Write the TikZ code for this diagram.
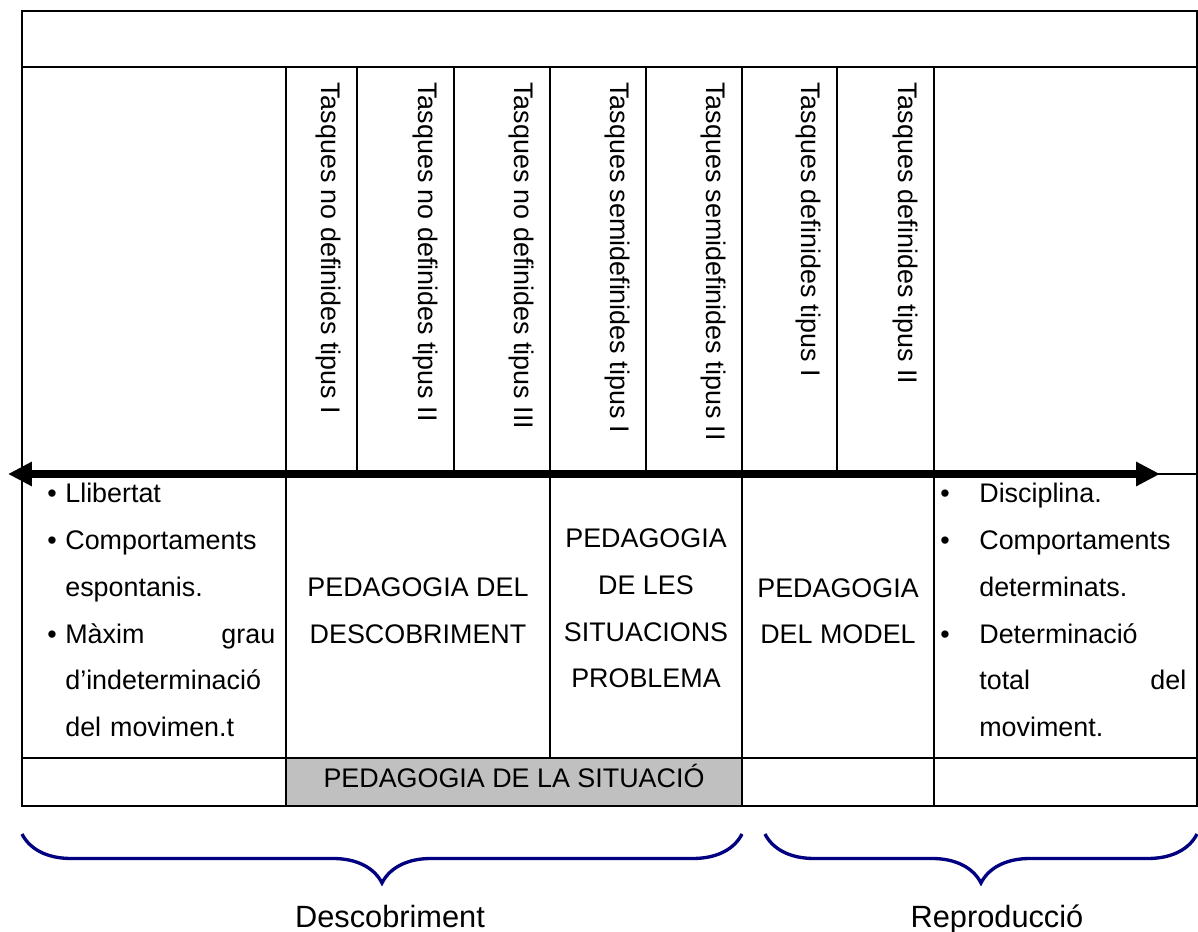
\documentclass[tikz,border=0pt]{standalone}
\usepackage{fontspec}
\setmainfont{Liberation Sans}
\usepackage{xcolor}
\usetikzlibrary{positioning,arrows.meta,decorations.pathreplacing}
\definecolor{navyblue}{HTML}{000080}
\definecolor{cellgray}{HTML}{C0C0C0}
\newcommand{\itembul}[1]{\leavevmode\llap{\textbullet\hspace{#1}}}

\begin{document}
\begin{tikzpicture}[x=0.02cm, y=-0.02cm,
    tableline/.style={line width=1.1pt},
    celltext/.style={inner sep=0pt, font=\fontsize{15.3pt}{26.6pt}\selectfont},
    vtext/.style={celltext, rotate=-90, anchor=north west},
    bracket/.style={draw=navyblue, line width=1.9pt, decorate, decoration={brace, mirror, amplitude=0.98cm}},
    bracelabel/.style={inner sep=0pt, anchor=base, font=\fontsize{17.5pt}{21pt}\selectfont}]
    \useasboundingbox (0,0) rectangle (1198,932);

    % table
    \fill[cellgray] (286,758) rectangle (742,806);
    \draw[tableline] (22,11) rectangle (1197,806);
    \draw[tableline] (22,67) -- (1197,67);
    \draw[tableline] (22,474) -- (1197,474);
    \draw[tableline] (22,758) -- (1197,758);
    \foreach \x in {286,357,454,550,646,742,837,934}
        \draw[tableline] (\x,67) -- (\x,474);
    \foreach \x in {286,550,742,934}
        \draw[tableline] (\x,474) -- (\x,758);
    \foreach \x in {286,742,934}
        \draw[tableline] (\x,758) -- (\x,806);

    % task columns
    \foreach \name/\xr/\txt in {nodefI/357/Tasques no definides tipus I,
                                nodefII/454/Tasques no definides tipus II,
                                nodefIII/550/Tasques no definides tipus III,
                                semiI/646/Tasques semidefinides tipus I,
                                semiII/742/Tasques semidefinides tipus II,
                                defI/837/Tasques definides tipus I,
                                defII/934/Tasques definides tipus II}
        \node[vtext] (\name) at (\xr-16,82) {\txt};

    % axis
    \coordinate (freedom) at (8,474);
    \coordinate (discipline) at (1160,474);
    \draw[line width=4.5pt, {Triangle[length=0.48cm,width=0.46cm]}-{Triangle[length=0.48cm,width=0.46cm]}] (freedom) -- (discipline);

    % lower row
    \node[celltext, text width=4.2cm, align=left, anchor=base west] (freetext) at (65,503)
        {\itembul{0.17cm}Llibertat\\ \itembul{0.17cm}Comportaments\\ espontanis.\\
         \itembul{0.17cm}Màxim\hfill grau\\ d’indeterminació\\ del movimen.t};
    \node[celltext, align=center, anchor=base] (discovery) at (418,643) {PEDAGOGIA DEL\\DESCOBRIMENT};
    \node[celltext, align=center, anchor=base] (problems) at (646,688) {PEDAGOGIA\\DE LES\\SITUACIONS\\PROBLEMA};
    \node[celltext, align=center, anchor=base] (model) at (838,644) {PEDAGOGIA\\DEL MODEL};
    \node[celltext, text width=4.14cm, align=left, anchor=base west] (fixedtext) at (979,503)
        {\itembul{0.59cm}Disciplina.\\ \itembul{0.59cm}Comportaments\\ determinats.\\
         \itembul{0.59cm}Determinació\\ total\hfill del\\ moviment.};
    \node[celltext, anchor=base] (situation) at (514,787) {PEDAGOGIA DE LA SITUACIÓ};

    % braces
    \coordinate (dstart) at (22,834);
    \coordinate (dend) at (742,834);
    \coordinate (rstart) at (765,834);
    \coordinate (rend) at (1197,834);
    \draw[bracket] (dstart) -- (dend);
    \draw[bracket] (rstart) -- (rend);
    \node[bracelabel] (discoverylabel) at (390,927) {Descobriment};
    \node[bracelabel] (reproductionlabel) at (997,927) {Reproducció};
\end{tikzpicture}
\end{document}
